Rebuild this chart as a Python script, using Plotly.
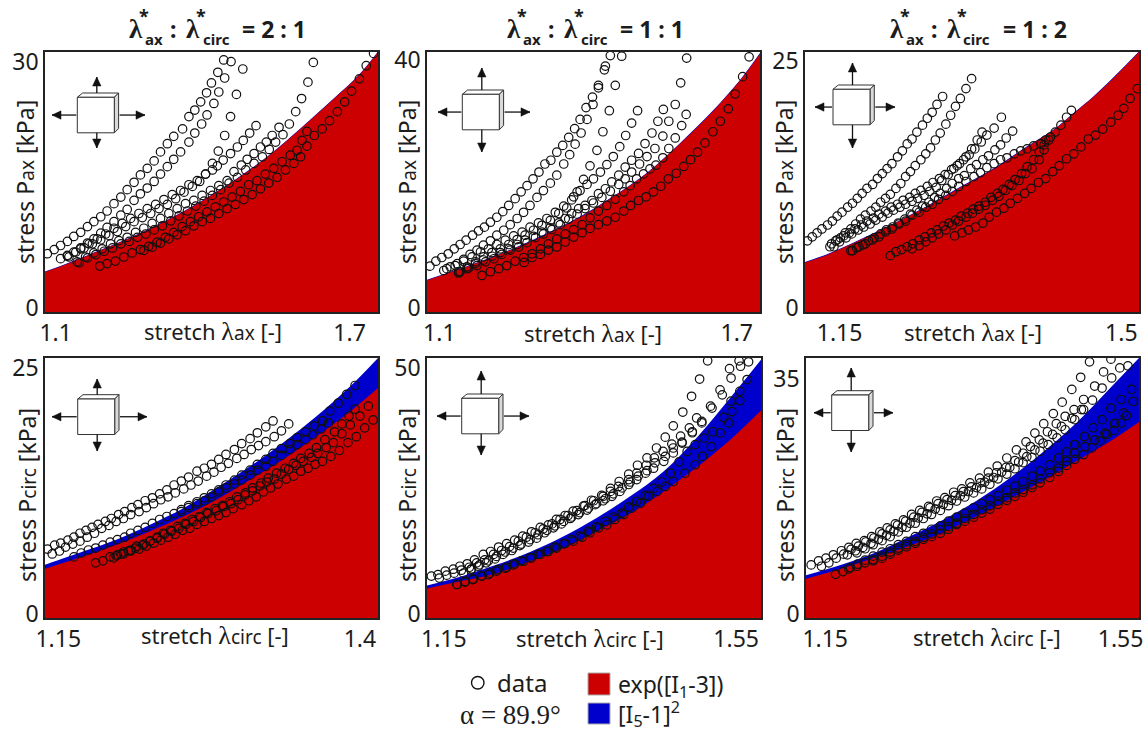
import plotly.graph_objects as go

W, H = 1148, 729
RED = "#CC0000"
BLUE = "#0000CC"
INK = "#1c1c1c"
SANS = "Noto Sans"
SERIF = "Liberation Serif"

# ---------- panel 1: ax, 2:1 ----------
p1_curve_x = [1.078,1.124,1.192,1.26,1.328,1.396,1.464,1.532,1.6,1.668,1.719,1.758]
p1_red_y = [4.87,5.89,7.51,9.22,11.17,13.4,15.96,18.88,22.33,25.98,28.83,31.67]
p1_blue_y = [4.93,5.95,7.57,9.28,11.23,13.46,16.02,18.94,22.39,26.04,28.89,31.73]
p1_x1 = [1.083,1.097,1.110,1.124,1.137,1.151,1.165,1.178,1.192,1.205,1.219,1.233,1.246,1.260,1.273,1.287,1.301,1.314,1.328,1.341,1.359,1.372,1.384,1.396,1.408,1.418,1.431,1.443]
p1_y1 = [7.1,7.6,8.1,8.6,9.2,9.7,10.4,11.0,11.6,12.3,13.2,14.0,14.9,15.8,16.7,17.5,18.4,19.5,20.5,21.4,22.3,23.8,24.6,25.6,26.7,27.9,29.2,30.7]
p1_x2 = [1.110,1.124,1.137,1.151,1.165,1.178,1.192,1.205,1.219,1.233,1.246,1.260,1.273,1.287,1.301,1.314,1.328,1.341,1.355,1.372,1.384,1.398,1.409,1.423,1.433,1.445,1.458]
p1_y2 = [6.5,6.8,7.3,7.8,8.4,8.9,9.6,10.3,11.0,11.8,12.5,13.6,14.4,15.1,15.9,16.8,17.7,18.6,19.5,20.7,21.8,22.9,24.0,25.4,26.8,28.5,30.5]
p1_x3 = [1.124,1.141,1.158,1.175,1.192,1.209,1.226,1.243,1.260,1.277,1.294,1.311,1.328,1.345,1.362,1.379,1.394,1.406,1.420,1.432,1.445,1.457,1.469,1.482]
p1_y3 = [6.9,7.3,7.8,8.3,8.8,9.3,9.8,10.4,11.0,11.5,12.0,12.6,13.1,13.8,14.6,15.3,15.9,16.8,18.1,19.6,21.5,23.8,26.5,29.6]
p1_x4 = [1.127,1.151,1.168,1.185,1.202,1.219,1.236,1.253,1.270,1.287,1.304,1.321,1.338,1.355,1.372,1.389,1.406,1.420,1.430,1.442,1.457,1.471,1.483,1.496,1.509]
p1_y4 = [6.7,7.7,8.3,8.9,9.5,10.2,10.8,11.4,12.0,12.6,13.1,13.7,14.3,14.8,15.5,16.0,16.8,17.3,17.8,18.5,19.3,20.1,20.9,21.8,22.7]
p1_x5 = [1.144,1.161,1.178,1.195,1.212,1.229,1.246,1.263,1.280,1.297,1.314,1.331,1.348,1.365,1.382,1.399,1.416,1.433,1.450,1.464,1.479,1.491,1.505,1.518,1.530,1.542,1.556]
p1_y5 = [6.1,6.7,7.2,7.7,8.3,8.7,9.1,9.7,10.2,10.8,11.4,12.0,12.6,13.2,13.6,14.2,14.8,15.4,16.0,17.1,17.9,18.6,19.3,20.1,20.7,21.5,22.5]
p1_x6 = [1.148,1.165,1.182,1.199,1.216,1.233,1.250,1.267,1.284,1.301,1.318,1.335,1.352,1.369,1.386,1.403,1.420,1.437,1.454,1.471,1.488,1.505,1.522,1.536,1.549,1.564,1.577,1.590,1.602,1.615,1.626]
p1_y6 = [6.0,6.6,7.0,7.4,7.8,8.3,8.6,9.1,9.5,10.0,10.5,11.1,11.7,12.3,12.9,13.5,14.2,14.9,15.7,16.4,17.3,18.1,18.9,19.8,20.7,21.6,22.9,24.4,26.0,28.0,30.4]
p1_x7 = [1.190,1.205,1.222,1.239,1.256,1.273,1.290,1.307,1.324,1.341,1.358,1.375,1.392,1.409,1.426,1.443,1.460,1.477,1.494,1.511,1.528,1.545,1.562,1.579,1.593,1.603,1.613]
p1_y7 = [5.6,5.9,6.2,6.7,7.2,7.6,8.0,8.5,9.1,9.7,10.4,11.0,11.6,12.2,12.8,13.4,14.0,14.7,15.5,16.0,16.8,17.5,18.3,19.1,19.7,20.9,22.0]
p1_x8 = [1.280,1.297,1.314,1.331,1.348,1.365,1.382,1.399,1.416,1.433,1.450,1.467,1.484,1.501,1.518,1.535,1.552,1.569,1.586,1.600,1.613,1.628,1.644,1.659,1.675,1.690,1.704,1.720,1.734,1.749]
p1_y8 = [7.5,7.9,8.4,8.9,9.4,9.9,10.5,11.0,11.4,12.0,12.6,13.1,13.7,14.3,15.0,15.7,16.4,17.3,18.1,18.9,20.2,21.5,22.3,23.3,24.4,25.6,26.9,28.4,30.0,31.5]

# ---------- panel 2: ax, 1:1 ----------
p2_curve_x = [1.075,1.115,1.183,1.25,1.317,1.384,1.451,1.519,1.586,1.653,1.707,1.747]
p2_red_y = [5.1,6.2,8.1,10.2,12.6,15.3,18.6,22.4,27.2,32.5,37.4,41.7]
p2_blue_y = [5.2,6.3,8.2,10.3,12.7,15.4,18.7,22.5,27.3,32.6,37.5,41.8]
p2_x1 = [1.081,1.093,1.105,1.118,1.130,1.142,1.154,1.167,1.179,1.191,1.203,1.216,1.228,1.240,1.253,1.265,1.277,1.289,1.301,1.313,1.325,1.337,1.349,1.361,1.373,1.384,1.396,1.409,1.421,1.433,1.445]
p2_y1 = [7.4,8.2,8.8,9.4,10.2,10.9,11.6,12.4,13.1,13.7,14.5,15.3,16.2,17.2,18.3,19.4,20.4,21.5,22.6,23.9,24.5,25.8,26.9,28.2,29.6,31.1,33.0,34.7,36.6,39.1,41.4]
p2_x2 = [1.109,1.122,1.136,1.149,1.162,1.176,1.189,1.203,1.216,1.230,1.243,1.257,1.270,1.283,1.297,1.310,1.324,1.337,1.351,1.363,1.374,1.386,1.398,1.410,1.421,1.435]
p2_y2 = [6.7,7.3,7.8,8.5,9.3,10.0,10.8,11.5,12.4,13.2,14.1,15.1,16.1,17.2,18.5,19.6,20.8,22.1,23.9,25.4,27.1,28.9,31.1,33.5,36.2,39.7]
p2_x3 = [1.115,1.132,1.149,1.166,1.183,1.199,1.216,1.233,1.250,1.267,1.283,1.300,1.317,1.334,1.351,1.367,1.378,1.391,1.404,1.418,1.430,1.443,1.455,1.468]
p2_y3 = [7.0,7.5,8.2,8.9,9.7,10.2,10.9,11.6,12.3,12.9,13.7,14.4,15.1,16.1,17.1,18.1,19.4,21.4,23.6,26.1,29.1,32.5,36.6,41.3]
p2_x4 = [1.139,1.156,1.173,1.189,1.206,1.223,1.240,1.257,1.273,1.290,1.307,1.324,1.341,1.357,1.371,1.384,1.398,1.411,1.425,1.438,1.451,1.464,1.476,1.488,1.500]
p2_y4 = [6.5,7.3,8.1,8.9,9.6,10.2,10.9,11.7,12.4,13.2,14.0,14.8,15.9,16.8,18.6,19.6,20.6,21.5,22.6,23.8,25.1,26.7,28.5,30.5,32.5]
p2_x5 = [1.139,1.156,1.173,1.189,1.206,1.223,1.240,1.257,1.273,1.290,1.307,1.324,1.341,1.354,1.367,1.381,1.394,1.408,1.421,1.435,1.448,1.462,1.475,1.488,1.502,1.515,1.529,1.541,1.552]
p2_y5 = [6.3,7.0,7.8,8.4,9.0,9.6,10.2,10.9,11.6,12.2,12.9,13.6,14.4,15.1,15.9,16.7,17.2,18.0,19.1,19.9,21.0,22.1,23.4,24.5,25.6,27.2,28.9,30.8,32.7]
p2_x6 = [1.142,1.159,1.176,1.193,1.210,1.226,1.243,1.260,1.277,1.294,1.310,1.327,1.344,1.361,1.378,1.394,1.411,1.428,1.445,1.462,1.475,1.488,1.504,1.519,1.535,1.551,1.563,1.576,1.587,1.599]
p2_y6 = [6.5,7.1,7.5,8.1,8.6,9.3,10.0,10.5,11.2,12.0,12.6,13.3,14.1,15.0,15.8,16.7,17.6,18.5,19.5,20.6,21.5,22.6,23.9,25.1,26.4,28.4,30.8,33.5,37.0,41.0]
p2_x7 = [1.186,1.203,1.220,1.236,1.253,1.270,1.287,1.304,1.320,1.337,1.354,1.371,1.388,1.404,1.421,1.438,1.455,1.472,1.485,1.498,1.512,1.525,1.537,1.551,1.563,1.576,1.589,1.598]
p2_y7 = [5.9,6.5,7.0,7.5,8.2,8.8,9.4,10.2,11.0,11.8,12.6,13.3,14.1,15.2,16.3,17.2,18.2,19.4,20.4,21.5,22.3,23.1,23.7,24.9,26.4,28.1,30.1,31.9]
p2_x8 = [1.271,1.287,1.304,1.320,1.337,1.354,1.371,1.388,1.404,1.421,1.438,1.455,1.472,1.486,1.502,1.517,1.532,1.547,1.562,1.578,1.593,1.607,1.621,1.636,1.652,1.667,1.683,1.697,1.712,1.725]
p2_y8 = [8.0,8.8,9.3,10.0,10.5,11.3,12.1,12.8,13.5,14.1,14.7,15.3,16.3,17.2,18.0,18.6,19.4,20.3,21.5,22.4,23.5,24.6,25.8,27.3,29.1,30.8,32.8,35.2,38.0,41.2]

# ---------- panel 3: ax, 1:2 ----------
p3_curve_x = [1.107,1.135,1.176,1.217,1.259,1.3,1.342,1.383,1.416,1.441,1.466,1.495,1.522]
p3_red_y = [5.0,5.8,7.3,8.9,10.7,12.6,14.5,16.7,18.4,20.1,21.8,24.06,26.3]
p3_blue_y = [5.06,5.86,7.36,8.96,10.76,12.66,14.56,16.76,18.46,20.16,21.86,24.12,26.36]
p3_x1 = [1.110,1.116,1.122,1.128,1.135,1.141,1.147,1.153,1.160,1.166,1.172,1.178,1.184,1.191,1.197,1.203,1.209,1.215,1.222,1.228,1.234,1.240,1.246,1.253,1.259,1.265,1.271,1.278]
p3_y1 = [7.2,7.6,8.0,8.4,8.8,9.2,9.7,10.1,10.6,11.0,11.5,12.0,12.5,12.9,13.5,14.0,14.5,15.0,15.7,16.3,17.0,17.5,18.2,18.9,19.6,20.2,21.0,21.8]
p3_x2 = [1.138,1.145,1.151,1.157,1.164,1.170,1.176,1.182,1.189,1.195,1.201,1.207,1.213,1.220,1.226,1.232,1.238,1.244,1.251,1.257,1.263,1.269,1.275,1.282,1.288,1.294,1.300,1.307,1.314]
p3_y2 = [6.6,7.2,7.5,8.0,8.4,8.9,9.4,9.8,10.2,10.6,11.1,11.5,11.9,12.5,13.0,13.7,14.2,14.8,15.4,16.0,16.6,17.4,18.1,19.0,19.9,20.8,21.6,22.6,23.6]
p3_x3 = [1.140,1.147,1.155,1.162,1.169,1.177,1.184,1.192,1.199,1.207,1.214,1.222,1.229,1.237,1.244,1.251,1.259,1.266,1.274,1.281,1.289,1.296,1.304,1.311,1.318,1.326,1.333,1.342,1.351]
p3_y3 = [6.9,7.3,7.7,8.0,8.4,8.8,9.2,9.5,9.9,10.2,10.6,10.9,11.3,11.6,12.0,12.3,12.7,13.1,13.5,13.9,14.4,14.8,15.4,15.9,16.5,17.2,17.9,18.6,19.7]
p3_x4 = [1.143,1.150,1.158,1.165,1.173,1.180,1.188,1.195,1.203,1.210,1.217,1.225,1.232,1.240,1.247,1.255,1.262,1.270,1.277,1.285,1.292,1.299,1.307,1.314,1.321,1.327]
p3_y4 = [6.6,7.1,7.5,7.9,8.3,8.6,8.9,9.3,9.6,10.0,10.3,10.6,10.9,11.2,11.5,11.8,12.2,12.6,13.3,13.9,14.5,15.0,15.7,16.5,17.4,18.2]
p3_x5 = [1.164,1.171,1.179,1.186,1.193,1.201,1.208,1.216,1.223,1.231,1.238,1.246,1.253,1.261,1.268,1.275,1.283,1.290,1.298,1.305,1.313,1.320,1.328,1.335,1.343,1.350,1.357,1.365]
p3_y5 = [6.2,6.5,6.8,7.2,7.5,7.9,8.3,8.6,9.0,9.4,9.9,10.3,10.7,11.1,11.6,12.0,12.5,13.0,13.5,13.8,14.5,14.9,15.4,15.8,16.4,16.9,17.6,18.3]
p3_x6 = [1.166,1.174,1.182,1.191,1.199,1.207,1.215,1.224,1.232,1.240,1.249,1.257,1.265,1.273,1.282,1.290,1.298,1.307,1.317,1.325,1.333,1.342,1.350,1.358,1.367,1.375,1.383,1.391,1.400,1.406,1.412,1.418,1.425,1.432,1.438]
p3_y6 = [6.2,6.6,6.9,7.3,7.6,8.1,8.4,8.9,9.2,9.8,10.1,10.6,10.9,11.4,11.8,12.2,12.7,13.2,13.7,14.1,14.6,15.0,15.4,15.6,16.0,16.3,16.5,16.8,17.0,17.4,17.7,18.2,18.9,19.7,20.4]
p3_x7 = [1.213,1.220,1.227,1.234,1.241,1.249,1.256,1.264,1.271,1.279,1.286,1.294,1.301,1.309,1.316,1.323,1.331,1.338,1.346,1.353,1.361,1.368,1.376,1.383,1.391,1.398,1.404,1.410]
p3_y7 = [5.7,6.1,6.3,6.6,6.9,7.3,7.6,8.0,8.3,8.7,9.0,9.3,9.7,10.0,10.4,10.7,11.1,11.6,12.0,12.4,12.9,13.4,14.0,14.7,15.4,16.2,16.9,17.4]
p3_x8 = [1.240,1.249,1.257,1.265,1.273,1.282,1.290,1.298,1.307,1.315,1.323,1.331,1.340,1.348,1.356,1.364,1.373,1.381,1.389,1.398,1.404]
p3_y8 = [6.4,6.7,7.1,7.5,7.9,8.3,8.8,9.2,9.6,10.0,10.4,10.8,11.3,11.7,12.3,12.8,13.3,14.0,14.5,15.4,16.4]
p3_x9 = [1.293,1.302,1.310,1.319,1.328,1.336,1.345,1.354,1.362,1.371,1.380,1.388,1.397,1.406,1.415,1.423,1.432,1.441,1.450,1.459,1.468,1.477,1.487,1.496,1.503,1.511,1.520]
p3_y9 = [7.7,8.0,8.3,8.6,9.0,9.6,10.1,10.5,11.0,11.5,12.0,12.5,13.1,13.5,14.2,14.8,15.5,16.0,16.7,17.5,17.9,18.5,19.2,19.9,20.6,21.6,22.6]

# ---------- panel 4: circ, 2:1 ----------
p4_curve_x = [1.139,1.171,1.198,1.226,1.254,1.281,1.309,1.336,1.364,1.392,1.415]
p4_blue_y = [5.41,6.77,7.95,9.47,11.16,13.19,15.39,17.76,20.47,23.51,26.39]
p4_red_y = [5.0,6.26,7.44,8.8,10.32,12.0,14.04,16.07,18.44,20.97,23.34]
p4_x1 = [1.141,1.147,1.152,1.158,1.163,1.168,1.173,1.178,1.183,1.189,1.194,1.200,1.205,1.211,1.216,1.222,1.228,1.234,1.240,1.246,1.252,1.258,1.265,1.271,1.277,1.283,1.289,1.296,1.302,1.309,1.315,1.322,1.328]
p4_y1 = [7.0,7.4,7.6,7.9,8.2,8.6,8.9,9.2,9.5,9.8,10.1,10.5,10.8,11.2,11.5,11.9,12.2,12.6,13.0,13.5,13.9,14.3,14.9,15.2,15.6,16.1,16.6,17.1,17.7,18.2,18.8,19.4,20.0]
p4_x2 = [1.145,1.151,1.156,1.162,1.168,1.174,1.180,1.186,1.192,1.198,1.204,1.210,1.217,1.223,1.229,1.235,1.241,1.247,1.254,1.260,1.266,1.273,1.279,1.285,1.291,1.298,1.304,1.310,1.316,1.322,1.329,1.335,1.341]
p4_y2 = [6.5,6.8,7.2,7.5,7.8,8.2,8.6,9.1,9.4,9.8,10.1,10.5,10.8,11.2,11.6,12.0,12.3,12.7,13.1,13.5,13.9,14.4,14.8,15.3,15.7,16.2,16.6,17.1,17.5,17.9,18.4,19.0,19.7]
p4_x3 = [1.163,1.169,1.175,1.181,1.187,1.193,1.199,1.205,1.210,1.216,1.222,1.228,1.234,1.240,1.246,1.252,1.258,1.265,1.271,1.277,1.283,1.289,1.296,1.302,1.309,1.315,1.322,1.328,1.335,1.342,1.348,1.355,1.362,1.369,1.375,1.382,1.389,1.396]
p4_y3 = [6.2,6.6,6.9,7.1,7.4,7.7,7.95,8.2,8.6,8.9,9.2,9.6,10.0,10.3,10.6,11.0,11.4,11.8,12.2,12.6,13.0,13.5,14.0,14.5,15.0,15.6,16.1,16.7,17.2,17.7,18.3,18.9,19.5,20.0,21.0,21.8,22.7,23.6]
p4_x4 = [1.252,1.258,1.265,1.271,1.277,1.283,1.289,1.296,1.302,1.309,1.315,1.322,1.328,1.335,1.342,1.348,1.355,1.361,1.368,1.374]
p4_y4 = [10.8,11.2,11.6,11.9,12.3,12.8,13.2,13.6,14.0,14.5,15.0,15.4,15.9,16.5,17.1,17.6,18.1,18.6,19.2,19.8]
p4_x5 = [1.181,1.187,1.193,1.199,1.204,1.210,1.215,1.221,1.226,1.232,1.237,1.243,1.249,1.255,1.261,1.267,1.273,1.280,1.286,1.292,1.298,1.305,1.311,1.318,1.324,1.331,1.338,1.345,1.351,1.358,1.364,1.371,1.379,1.385,1.391,1.396]
p4_y5 = [5.6,5.8,6.2,6.4,6.7,6.9,7.3,7.5,7.8,8.2,8.6,8.9,9.3,9.6,10.0,10.3,10.7,11.1,11.4,11.8,12.3,12.7,13.2,13.7,14.2,14.7,15.2,15.7,16.2,16.7,17.3,18.1,18.9,19.7,20.5,21.2]
p4_x6 = [1.196,1.202,1.208,1.214,1.220,1.226,1.232,1.238,1.244,1.250,1.256,1.262,1.268,1.274,1.281,1.287,1.293,1.299,1.305,1.311,1.317,1.323,1.329,1.335,1.341,1.347,1.353,1.360,1.365,1.372,1.378,1.385,1.392,1.400,1.407]
p4_y6 = [6.1,6.5,6.8,7.1,7.4,7.8,8.1,8.5,8.8,9.1,9.5,9.8,10.2,10.6,10.9,11.3,11.6,12.0,12.5,12.9,13.4,13.8,14.1,14.6,15.1,15.5,15.9,16.3,16.7,17.3,17.8,18.7,19.6,20.5,21.5]
p4_x7 = [1.198,1.204,1.210,1.217,1.223,1.229,1.235,1.241,1.247,1.253,1.259,1.265,1.271,1.277,1.283,1.289,1.295,1.302,1.308,1.314,1.320,1.326,1.332,1.339,1.345,1.351,1.357,1.363,1.369,1.376,1.383,1.390,1.397,1.404,1.411]
p4_y7 = [6.3,6.5,6.8,7.0,7.3,7.6,7.9,8.2,8.5,8.9,9.1,9.5,9.8,10.1,10.4,10.7,11.1,11.5,11.9,12.3,12.8,13.2,13.6,14.1,14.4,14.9,15.2,15.6,15.9,16.4,17.0,17.8,18.4,19.3,20.1]

# ---------- panel 5: circ, 1:1 ----------
p5_curve_x = [1.127,1.177,1.222,1.268,1.314,1.359,1.405,1.451,1.496,1.542,1.584]
p5_blue_y = [6.6,8.6,10.8,13.4,16.6,20.3,24.7,29.8,36.6,44.7,52.4]
p5_red_y = [6.0,7.6,9.1,11.5,14.2,17.6,21.2,25.7,30.6,36.2,42.1]
p5_x1 = [1.133,1.142,1.152,1.163,1.172,1.182,1.192,1.204,1.214,1.225,1.236,1.247,1.258,1.270,1.282,1.293,1.304,1.316,1.327,1.341,1.352,1.366,1.378,1.390,1.403,1.415,1.428,1.441,1.453,1.464,1.477,1.489,1.500,1.511]
p5_y1 = [8.5,8.8,9.5,9.9,10.5,11.0,11.8,12.9,13.5,14.4,15.1,15.8,16.6,17.5,18.4,18.9,20.0,20.8,21.7,22.7,23.9,24.9,26.3,27.7,29.2,31.0,32.5,34.5,36.7,39.0,41.8,45.0,48.5,52.2]
p5_x2 = [1.144,1.154,1.164,1.174,1.185,1.195,1.206,1.218,1.229,1.240,1.252,1.263,1.275,1.286,1.298,1.309,1.320,1.332,1.343,1.355,1.368,1.378,1.389,1.403,1.414,1.427,1.438,1.450,1.462,1.474,1.486,1.496,1.515,1.528,1.541,1.554]
p5_y2 = [8.1,8.7,9.1,9.7,10.3,11.2,11.8,12.9,13.7,14.5,15.6,16.4,17.3,18.1,19.1,20.0,20.8,21.8,22.8,23.8,24.7,25.7,26.7,28.1,29.4,31.0,32.5,33.8,35.3,36.9,38.6,40.6,43.0,46.3,50.6,52.2]
p5_x3 = [1.177,1.187,1.197,1.208,1.220,1.231,1.243,1.254,1.266,1.277,1.288,1.300,1.311,1.323,1.334,1.346,1.357,1.368,1.380,1.391,1.403,1.414,1.426,1.437,1.451,1.464,1.476,1.490,1.503,1.517,1.531,1.543,1.556,1.567]
p5_y3 = [9.1,9.8,10.5,11.2,12.0,12.9,13.7,14.7,15.4,16.2,17.3,18.3,19.1,20.2,21.0,21.9,23.0,23.8,24.7,25.7,27.1,28.1,29.4,30.4,31.8,33.5,35.5,37.6,39.9,42.6,45.3,48.7,51.1,52.0]
p5_x4 = [1.168,1.179,1.190,1.202,1.211,1.222,1.234,1.245,1.256,1.268,1.279,1.291,1.302,1.314,1.325,1.336,1.348,1.359,1.371,1.382,1.394,1.403,1.414,1.426,1.437,1.448,1.460,1.472,1.483,1.494,1.506,1.518,1.533,1.543,1.555,1.565]
p5_y4 = [6.8,7.4,7.9,8.5,8.8,9.5,10.1,10.8,11.6,12.2,12.9,13.5,14.4,15.1,15.9,16.6,17.6,18.5,19.6,20.5,21.3,22.5,23.7,24.9,26.3,27.6,29.4,31.7,33.8,35.2,36.5,37.8,40.7,44.0,46.0,48.4]
p5_x5 = [1.168,1.179,1.190,1.202,1.213,1.224,1.236,1.247,1.259,1.270,1.282,1.293,1.304,1.316,1.327,1.339,1.350,1.362,1.373,1.384,1.396,1.407,1.419,1.430,1.442,1.453,1.464,1.480,1.494,1.504,1.516,1.528,1.540,1.544,1.555]
p5_y5 = [6.8,7.3,7.8,8.5,9.1,9.8,10.3,11.0,11.5,12.2,12.9,13.5,14.2,15.1,15.6,16.4,17.3,18.3,18.9,20.0,21.0,22.3,23.3,24.7,25.7,26.7,27.7,29.4,31.1,32.8,34.8,37.6,39.6,41.9,44.1]
p5_x6 = [1.188,1.199,1.211,1.222,1.234,1.245,1.256,1.268,1.279,1.291,1.302,1.314,1.325,1.336,1.348,1.359,1.371,1.382,1.394,1.405,1.416,1.428,1.439,1.453,1.464,1.476,1.490,1.503]
p5_y6 = [10.0,10.8,11.6,12.5,13.4,14.2,15.0,15.9,16.9,17.8,18.7,19.6,20.5,21.4,22.3,23.2,24.2,25.2,26.4,27.6,28.8,29.9,31.5,32.8,34.5,35.7,37.8,39.6]

# ---------- panel 6: circ, 1:2 ----------
p6_curve_x = [1.124,1.175,1.22,1.265,1.31,1.355,1.4,1.445,1.49,1.536,1.575]
p6_blue_y = [6.35,8.03,9.82,12.15,14.63,17.45,20.82,24.69,29.0,34.21,38.67]
p6_red_y = [5.85,7.44,9.07,10.76,12.74,15.12,17.7,20.43,23.3,26.28,29.15]
p6_x1 = [1.131,1.141,1.151,1.161,1.172,1.182,1.192,1.203,1.213,1.224,1.234,1.245,1.256,1.267,1.278,1.290,1.301,1.312,1.324,1.335,1.346,1.359,1.371,1.383,1.396,1.409,1.422,1.434,1.446,1.459,1.471,1.484,1.496,1.508]
p6_y1 = [7.9,8.5,8.9,9.4,10.0,10.5,11.1,11.5,12.1,12.8,13.4,14.0,14.6,15.4,16.0,16.6,17.4,17.9,18.7,19.2,20.1,20.8,21.7,22.6,23.8,25.0,26.2,27.5,28.9,30.4,32.1,34.0,35.8,38.1]
p6_x2 = [1.145,1.155,1.165,1.175,1.185,1.195,1.205,1.216,1.227,1.238,1.248,1.259,1.270,1.281,1.292,1.303,1.315,1.326,1.337,1.348,1.360,1.371,1.382,1.395,1.407,1.418,1.428,1.440,1.451,1.463,1.475,1.487,1.500,1.515,1.527,1.537]
p6_y2 = [7.7,8.2,8.9,9.5,10.2,10.7,11.3,11.9,12.5,13.1,13.8,14.4,15.0,15.7,16.4,17.0,17.6,18.2,18.8,19.5,20.1,20.8,21.6,22.4,23.4,24.5,25.5,26.5,27.7,28.9,30.0,31.0,32.5,34.5,36.6,38.5]
p6_x3 = [1.180,1.191,1.201,1.212,1.222,1.233,1.243,1.254,1.265,1.276,1.288,1.299,1.310,1.321,1.333,1.344,1.355,1.366,1.378,1.389,1.400,1.412,1.423,1.434,1.445,1.458,1.470,1.484,1.497,1.512,1.525,1.538,1.549,1.560]
p6_y3 = [9.4,10.0,10.5,11.1,11.7,12.3,12.9,13.5,14.1,14.9,15.5,16.2,16.9,17.5,18.2,18.8,19.4,20.2,20.9,21.7,22.4,23.2,24.0,25.0,26.0,27.3,28.5,29.7,31.0,32.4,34.2,35.7,37.2,37.5]
p6_x4 = [1.164,1.174,1.184,1.194,1.204,1.215,1.227,1.238,1.249,1.260,1.272,1.283,1.294,1.306,1.317,1.328,1.339,1.351,1.362,1.373,1.384,1.396,1.407,1.418,1.430,1.441,1.454,1.466,1.477,1.488,1.501,1.513,1.525,1.537,1.551,1.565]
p6_y4 = [6.5,6.9,7.5,8.0,8.6,9.2,9.8,10.3,10.9,11.4,12.1,12.6,13.2,13.7,14.4,15.0,15.6,16.4,17.0,17.6,18.2,19.0,19.6,20.3,21.1,21.9,22.8,23.8,24.7,25.8,27.0,28.3,29.5,31.2,32.5,34.0]
p6_x5 = [1.182,1.193,1.204,1.215,1.227,1.238,1.249,1.260,1.272,1.283,1.294,1.306,1.317,1.328,1.339,1.351,1.362,1.373,1.384,1.396,1.407,1.418,1.430,1.441,1.454,1.466,1.477,1.488,1.502,1.515,1.529,1.542,1.554,1.567]
p6_y5 = [7.3,7.7,8.2,8.7,9.2,9.8,10.4,10.9,11.4,12.0,12.5,13.1,13.6,14.1,14.8,15.4,16.1,16.7,17.4,17.9,18.6,19.1,19.8,20.7,21.6,22.3,23.3,24.5,25.5,26.5,27.5,28.9,30.5,32.2]
p6_x6 = [1.215,1.227,1.238,1.249,1.260,1.272,1.283,1.294,1.306,1.317,1.328,1.339,1.351,1.362,1.373,1.384,1.396,1.407,1.418,1.430,1.441,1.454,1.466,1.477,1.488,1.500,1.511,1.522,1.531,1.541,1.551,1.558]
p6_y6 = [8.5,8.9,9.5,10.1,10.6,11.1,11.7,12.1,12.6,13.2,13.9,14.4,15.0,15.6,16.2,16.9,17.5,18.1,18.7,19.4,20.1,20.9,21.8,22.7,23.6,24.3,25.3,26.3,27.3,27.9,29.0,30.1]
p6_x7 = [1.193,1.204,1.215,1.227,1.238,1.249,1.260,1.272,1.283,1.294,1.306,1.317,1.328,1.339,1.351,1.362,1.373,1.384,1.396,1.407,1.418,1.430,1.441,1.452,1.464,1.475,1.488,1.500]
p6_y7 = [9.7,10.3,10.9,11.5,12.1,12.8,13.5,14.1,14.8,15.4,16.0,16.7,17.4,18.0,18.6,19.2,19.9,20.7,21.4,22.2,23.1,23.9,24.8,25.8,26.8,28.0,29.5,31.0]

tick_x = [[1.1,1.7],[1.1,1.7],[1.15,1.5],[1.15,1.4],[1.15,1.55],[1.15,1.55]]
tick_xt = [["1.1","1.7"],["1.1","1.7"],["1.15","1.5"],["1.15","1.4"],["1.15","1.55"],["1.15","1.55"]]
tick_y = [[0,30],[0,40],[0,25],[0,25],[0,50],[0,35]]
range_x = [[1.0782,1.758],[1.0751,1.747],[1.107,1.522],[1.139,1.415],[1.127,1.584],[1.124,1.575]]
range_y = [31.67,41.98,26.3,26.39,52.77,38.67]
ratio_titles = ["2 : 1","1 : 1","1 : 2"]

panels = [
    (p1_curve_x,p1_blue_y,p1_red_y,[(p1_x1,p1_y1),(p1_x2,p1_y2),(p1_x3,p1_y3),(p1_x4,p1_y4),(p1_x5,p1_y5),(p1_x6,p1_y6),(p1_x7,p1_y7),(p1_x8,p1_y8)]),
    (p2_curve_x,p2_blue_y,p2_red_y,[(p2_x1,p2_y1),(p2_x2,p2_y2),(p2_x3,p2_y3),(p2_x4,p2_y4),(p2_x5,p2_y5),(p2_x6,p2_y6),(p2_x7,p2_y7),(p2_x8,p2_y8)]),
    (p3_curve_x,p3_blue_y,p3_red_y,[(p3_x1,p3_y1),(p3_x2,p3_y2),(p3_x3,p3_y3),(p3_x4,p3_y4),(p3_x5,p3_y5),(p3_x6,p3_y6),(p3_x7,p3_y7),(p3_x8,p3_y8),(p3_x9,p3_y9)]),
    (p4_curve_x,p4_blue_y,p4_red_y,[(p4_x1,p4_y1),(p4_x2,p4_y2),(p4_x3,p4_y3),(p4_x4,p4_y4),(p4_x5,p4_y5),(p4_x6,p4_y6),(p4_x7,p4_y7)]),
    (p5_curve_x,p5_blue_y,p5_red_y,[(p5_x1,p5_y1),(p5_x2,p5_y2),(p5_x3,p5_y3),(p5_x4,p5_y4),(p5_x5,p5_y5),(p5_x6,p5_y6)]),
    (p6_curve_x,p6_blue_y,p6_red_y,[(p6_x1,p6_y1),(p6_x2,p6_y2),(p6_x3,p6_y3),(p6_x4,p6_y4),(p6_x5,p6_y5),(p6_x6,p6_y6),(p6_x7,p6_y7)]),
]

# panel boxes in page pixels: left, right, top, bottom
boxes = [(45,378,52,312),(427,760,52,312),(805,1139,52,312),(45,378,358,618),(427,761,358,618),(806,1139,358,618)]
xtitle_pos = [(213,331),(593,333),(973,332),(215,635),(590,638),(987,637)]
ytitle_pos = [(25,182),(407,182),(784,182),(27,495),(407,495),(785,495)]
# cube icons: square left, top, then tips of left, right, up, down arrows
cubes = [(77.3,97.3,52,145,77,148),(462.3,94.3,438,530,68,152),(833,89.3,815,895,63,148),
         (77.7,399,52,147,379,451),(461.7,398.3,437,529,371,455),(831.7,395,814,893,368,452)]

def fx(p): return p / W
def fy(p): return 1 - p / H

fig = go.Figure()
layout = dict(width=W, height=H, margin=dict(l=0,r=0,t=0,b=0,pad=0), autosize=False,
              paper_bgcolor="white", plot_bgcolor="white", showlegend=False,
              font=dict(family=SANS, color=INK, size=22))
annots, shapes = [], []

def text(px, py, s, size=22, anchor="center", family=SANS, angle=0, color=INK):
    annots.append(dict(x=fx(px), y=fy(py), xref="paper", yref="paper", text=s, showarrow=False,
                       xanchor=anchor, yanchor="middle", textangle=angle,
                       font=dict(size=size, family=family, color=color)))

def arrow(x0, y0, x1, y1):
    # shaft from (x0,y0) to tip (x1,y1), page pixels
    shapes.append(dict(type="line", xref="paper", yref="paper", x0=fx(x0), y0=fy(y0), x1=fx(x1), y1=fy(y1),
                       line=dict(color="#111", width=1.3)))
    dx = (x1 > x0) - (x1 < x0)
    dy = (y1 > y0) - (y1 < y0)
    L, R = 9, 4.2
    bx, by = x1 - dx*L, y1 - dy*L
    shapes.append(dict(type="path", xref="paper", yref="paper", fillcolor="#111", line=dict(color="#111", width=0.5),
                       path=f"M {fx(x1)} {fy(y1)} L {fx(bx - dy*R)} {fy(by - dx*R)} L {fx(bx + dy*R)} {fy(by + dx*R)} Z"))

for i, (cx, blue, red, chains) in enumerate(panels):
    n = i + 1
    s = "" if n == 1 else str(n)
    fig.add_trace(go.Scatter(x=cx, y=blue, mode="lines", line=dict(width=0, color=BLUE, shape="spline"),
                             fill="tozeroy", fillcolor=BLUE, xaxis="x"+s, yaxis="y"+s, hoverinfo="skip"))
    fig.add_trace(go.Scatter(x=cx, y=red, mode="lines", line=dict(width=0, color=RED, shape="spline"),
                             fill="tozeroy", fillcolor=RED, xaxis="x"+s, yaxis="y"+s, hoverinfo="skip"))
    for xs, ys in chains:
        fig.add_trace(go.Scatter(x=xs, y=ys, mode="markers", xaxis="x"+s, yaxis="y"+s,
                                 marker=dict(symbol="circle-open", size=8.5, color="#101010", line=dict(width=1.2, color="#101010"))))
    l, r, t, b = boxes[i]
    layout["xaxis"+s] = dict(domain=[fx(l), fx(r)], range=range_x[i], anchor="y"+s, showgrid=False, zeroline=False,
                             automargin=False, showline=True, mirror=True, linecolor="#222", linewidth=1.5, ticks="",
                             tickvals=tick_x[i], ticktext=tick_xt[i], tickfont=dict(size=23, family=SANS, color=INK))
    layout["yaxis"+s] = dict(domain=[fy(b), fy(t)], range=[0, range_y[i]], anchor="x"+s, showgrid=False, zeroline=False,
                             automargin=False, showline=True, mirror=True, linecolor="#222", linewidth=1.5, ticks="",
                             tickvals=tick_y[i], tickfont=dict(size=23, family=SANS, color=INK), ticklabelshift=-4)
    sub = "ax" if i < 3 else "circ"
    lam = f"<span style='font-family:{SERIF};font-size:26px'>λ</span>"
    px, py = xtitle_pos[i]
    text(px, py, f"stretch {lam}<span style='font-size:19px'>{sub}</span> [-]")
    px, py = ytitle_pos[i]
    text(px, py, f"stress P<span style='font-size:19px'>{sub}</span> [kPa]", size=23, angle=-90)
    # cube icon
    fxl, ftop, tl, tr, tu, td = cubes[i]
    w, h = 37, 35.5
    d = 4.3
    shapes.append(dict(type="path", xref="paper", yref="paper", line=dict(color="#333", width=1), fillcolor="white",
                       path=f"M {fx(fxl)} {fy(ftop)} L {fx(fxl+d+1)} {fy(ftop-d)} L {fx(fxl+w+d)} {fy(ftop-d)} L {fx(fxl+w)} {fy(ftop)} Z"))
    shapes.append(dict(type="path", xref="paper", yref="paper", line=dict(color="#333", width=1), fillcolor="#d9d9d9",
                       path=f"M {fx(fxl+w)} {fy(ftop)} L {fx(fxl+w+d)} {fy(ftop-d)} L {fx(fxl+w+d)} {fy(ftop+h-d)} L {fx(fxl+w)} {fy(ftop+h)} Z"))
    shapes.append(dict(type="rect", xref="paper", yref="paper", line=dict(color="#333", width=1), fillcolor="white",
                       x0=fx(fxl), x1=fx(fxl+w), y0=fy(ftop), y1=fy(ftop+h)))
    cxm = fxl + w/2 + 1
    cym = ftop + h/2
    arrow(fxl-1, cym, tl, cym)
    arrow(fxl+w+d+1, cym, tr, cym)
    arrow(cxm, ftop-d, cxm, tu)
    arrow(cxm, ftop+h, cxm, td)

# column titles
for dxp, ratio in zip([0, 378, 761], ratio_titles):
    text(136+dxp, 29, "<b>λ</b>", size=27, family=SERIF)
    text(144+dxp, 16, "<b>*</b>", size=18, family=SANS)
    text(154+dxp, 39, "<b>ax</b>", size=15)
    text(173+dxp, 29, "<b>:</b>", size=23)
    text(193+dxp, 29, "<b>λ</b>", size=27, family=SERIF)
    text(201+dxp, 16, "<b>*</b>", size=18, family=SANS)
    text(216+dxp, 39, "<b>circ</b>", size=15)
    text(240+dxp, 29, f"<b>= {ratio}</b>", size=23, anchor="left")

# legend block
shapes.append(dict(type="circle", xref="paper", yref="paper", line=dict(color="#111", width=1.4),
                   x0=fx(471.5), x1=fx(484), y0=fy(676.5), y1=fy(689)))
text(495, 682, "data", size=24, anchor="left")
text(510, 715, "α = 89.9°", size=27, family=SERIF)
for y0, y1, col in [(673, 695, RED), (703, 724, BLUE)]:
    shapes.append(dict(type="rect", xref="paper", yref="paper", line=dict(color="#aaa", width=1), fillcolor=col,
                       x0=fx(588), x1=fx(610), y0=fy(y0), y1=fy(y1)))
text(616, 685, "exp([I<sub>1</sub>-3])", size=23, anchor="left")
text(616, 714, "[I<sub>5</sub>-1]<sup>2</sup>", size=23, anchor="left")

layout["annotations"] = annots
layout["shapes"] = shapes
fig.update_layout(**layout)
fig.write_html("out.html", config={"displayModeBar": False},
               post_script="document.body.style.margin='0';document.body.style.overflow='hidden';window.dispatchEvent(new Event('resize'));")
